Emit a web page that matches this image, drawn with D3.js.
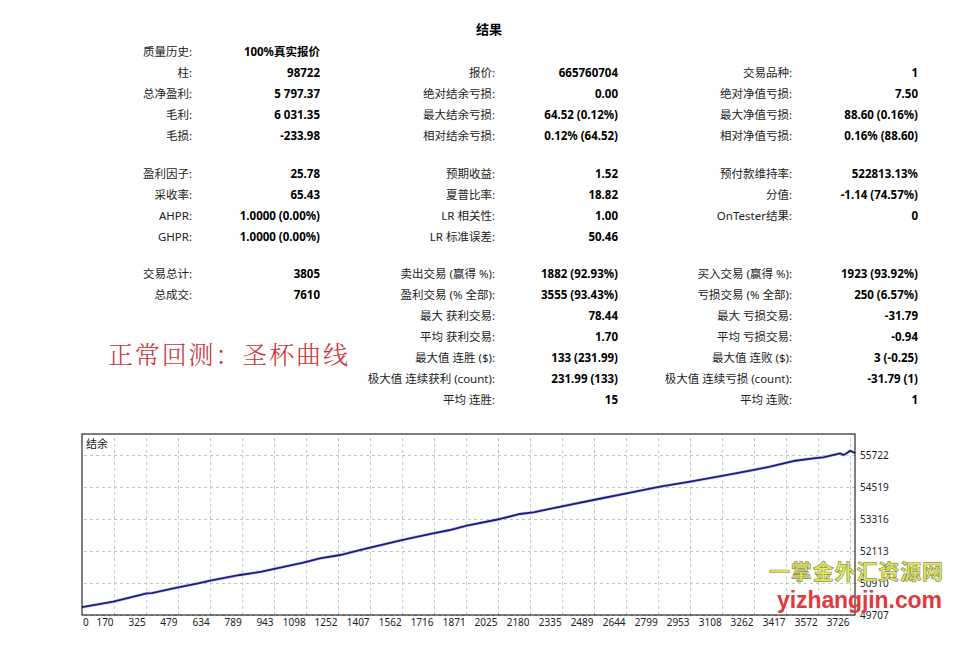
<!DOCTYPE html>
<html>
<head>
<meta charset="utf-8">
<script src="https://cdn.jsdelivr.net/npm/d3@7"></script>
<style>
  body { margin: 0; background: #fff; }
  svg { display: block; font-family: "Noto Sans", "Noto Sans CJK SC", sans-serif; }
  .lbl { font-size: 11.5px; fill: #222; }
  .val { font-size: 11.5px; font-weight: bold; fill: #000; }
  .axis text { font-size: 10px; fill: #222; font-family: "Noto Sans", sans-serif; }
  .axis .domain { display: none; }
  .axis line { stroke: #c4c4c4; stroke-dasharray: 3,3; }
</style>
</head>
<body>
<div id="chart"></div>
<script>
  // report table (label, value) per column, null = empty cell
  var reportTitle = "结果";
  var reportRows = [
    [["质量历史:", "100%真实报价"]],
    [["柱:", "98722"], ["报价:", "665760704"], ["交易品种:", "1"]],
    [["总净盈利:", "5 797.37"], ["绝对结余亏损:", "0.00"], ["绝对净值亏损:", "7.50"]],
    [["毛利:", "6 031.35"], ["最大结余亏损:", "64.52 (0.12%)"], ["最大净值亏损:", "88.60 (0.16%)"]],
    [["毛损:", "-233.98"], ["相对结余亏损:", "0.12% (64.52)"], ["相对净值亏损:", "0.16% (88.60)"]],
    "gap",
    [["盈利因子:", "25.78"], ["预期收益:", "1.52"], ["预付款维持率:", "522813.13%"]],
    [["采收率:", "65.43"], ["夏普比率:", "18.82"], ["分值:", "-1.14 (74.57%)"]],
    [["AHPR:", "1.0000 (0.00%)"], ["LR 相关性:", "1.00"], ["OnTester结果:", "0"]],
    [["GHPR:", "1.0000 (0.00%)"], ["LR 标准误差:", "50.46"]],
    "gap",
    [["交易总计:", "3805"], ["卖出交易 (赢得 %):", "1882 (92.93%)"], ["买入交易 (赢得 %):", "1923 (93.92%)"]],
    [["总成交:", "7610"], ["盈利交易 (% 全部):", "3555 (93.43%)"], ["亏损交易 (% 全部):", "250 (6.57%)"]],
    [null, ["最大 获利交易:", "78.44"], ["最大 亏损交易:", "-31.79"]],
    [null, ["平均 获利交易:", "1.70"], ["平均 亏损交易:", "-0.94"]],
    [null, ["最大值 连胜 ($):", "133 (231.99)"], ["最大值 连败 ($):", "3 (-0.25)"]],
    [null, ["极大值 连续获利 (count):", "231.99 (133)"], ["极大值 连续亏损 (count):", "-31.79 (1)"]],
    [null, ["平均 连胜:", "15"], ["平均 连败:", "1"]]
  ];

  // balance curve
  var chartTitle = "结余";
  var dealNo = [15, 166, 328, 352, 480, 577, 634, 778, 883, 939, 1084, 1165, 1262, 1342, 1407,
    1560, 1712, 1793, 1874, 2035, 2131, 2196, 2341, 2486, 2647, 2808, 2953, 3114, 3243, 3339,
    3452, 3549, 3597, 3678, 3694, 3710, 3726, 3750];
  var balance = [50000, 50207, 50523, 50530, 50748, 50899, 50996, 51211, 51335, 51436, 51673,
    51838, 51962, 52113, 52237, 52526, 52778, 52902, 53064, 53316, 53504, 53567, 53804, 54030,
    54282, 54530, 54718, 54943, 55131, 55282, 55496, 55597, 55635, 55785, 55722, 55785, 55883, 55797];
  var xTicks = [0, 170, 325, 479, 634, 789, 943, 1098, 1252, 1407, 1562, 1716, 1871, 2025, 2180,
    2335, 2489, 2644, 2799, 2953, 3108, 3262, 3417, 3572, 3726];
  var yTicks = [49707, 50910, 52113, 53316, 54519, 55722];
  var xDomain = [15, 3750];
  var yDomain = [49707, 56511];

  // overlay captions
  var caption = "正常回测：圣杯曲线";
  var siteName = "一掌金外汇资源网";
  var siteUrl = "yizhangjin.com";

  var svg = d3.select("#chart").append("svg")
    .attr("width", 959)
    .attr("height", 653);

  //Report table
  function drawReport() {
    var labelRight = [192, 495, 792];
    var valueRight = [320, 618, 918];
    var rowStep = 21, sectionGap = 16.5;

    svg.append("text")
      .attr("x", 489)
      .attr("y", 29)
      .attr("dy", "0.35em")
      .attr("text-anchor", "middle")
      .style("font-size", "13px")
      .style("font-weight", "bold")
      .text(reportTitle);

    var y = 52;
    reportRows.forEach(function(row) {
      if (row === "gap") { y += sectionGap; return; }
      row.forEach(function(cell, c) {
        if (!cell) return;
        svg.append("text").attr("class", "lbl")
          .attr("x", labelRight[c]).attr("y", y).attr("dy", "0.35em")
          .attr("text-anchor", "end")
          .text(cell[0]);
        svg.append("text").attr("class", "val")
          .attr("x", valueRight[c]).attr("y", y).attr("dy", "0.35em")
          .attr("text-anchor", "end")
          .text(cell[1]);
      });
      y += rowStep;
    });
  }

  //Balance chart
  function drawChart() {
    var margin = {top: 434, left: 82};
    var width = 773, height = 181;

    var g = svg.append("g")
      .attr("transform", "translate(" + margin.left + "," + margin.top + ")");

    var xScale = d3.scaleLinear().domain(xDomain).range([0, width]);
    var yScale = d3.scaleLinear().domain(yDomain).range([height, 0]);

    var yAxis = d3.axisRight(yScale)
      .tickValues(yTicks)
      .tickSize(-width)
      .tickPadding(5)
      .tickFormat(d3.format("d"));

    var xAxis = d3.axisBottom(xScale)
      .tickValues(xTicks)
      .tickSize(-height)
      .tickPadding(4)
      .tickFormat(d3.format("d"));

    g.append("g")
      .attr("class", "y axis")
      .attr("transform", "translate(" + width + ",0)")
      .call(yAxis);

    var xg = g.append("g")
      .attr("class", "x axis")
      .attr("transform", "translate(0," + height + ")")
      .call(xAxis);

    // labels end at their gridline, the first one starts at the border
    xg.selectAll(".tick text")
      .attr("text-anchor", "end")
      .attr("x", -1);
    xg.selectAll(".tick")
      .filter(function(d) { return d === xTicks[0]; })
      .attr("transform", "translate(0,0)")
      .call(function(t) {
        t.select("line").remove();
        t.select("text").attr("text-anchor", "start").attr("x", 1);
      });

    var line = d3.line()
      .x(function(d, i) { return xScale(dealNo[i]); })
      .y(function(d) { return yScale(d); });

    g.append("path")
      .datum(balance)
      .attr("fill", "none")
      .attr("stroke", "#8f8fd8")
      .attr("stroke-width", 3)
      .attr("stroke-opacity", 0.5)
      .attr("d", line);

    g.append("path")
      .datum(balance)
      .attr("fill", "none")
      .attr("stroke", "#1c1c86")
      .attr("stroke-width", 1.8)
      .attr("stroke-linejoin", "round")
      .attr("d", line);

    g.append("rect")
      .attr("width", width)
      .attr("height", height)
      .attr("fill", "none")
      .attr("stroke", "#000")
      .attr("stroke-width", 1);

    g.append("text")
      .attr("x", 4)
      .attr("y", 10)
      .attr("dy", "0.35em")
      .style("font-size", "11px")
      .style("fill", "#222")
      .text(chartTitle);
  }

  //Overlay captions
  function drawCaptions() {
    svg.append("text")
      .attr("x", 108)
      .attr("y", 355)
      .attr("dy", "0.36em")
      .attr("textLength", 240)
      .style("font-family", "'Noto Serif CJK SC', 'Noto Sans CJK SC', serif")
      .style("font-size", "25px")
      .style("font-weight", 300)
      .style("fill", "#cc3338")
      .text(caption);

    // watermark, drawn over the axis labels as in the source image
    svg.append("text")
      .attr("x", 769).attr("y", 571).attr("dy", "0.36em")
      .attr("textLength", 174)
      .style("font-family", "'Noto Sans CJK SC', sans-serif")
      .style("font-size", "21px")
      .style("font-weight", "bold")
      .style("fill", "#e4ee48")
      .style("stroke", "#8e8e66")
      .style("stroke-width", 0.7)
      .text(siteName);

    svg.append("text")
      .attr("x", 777).attr("y", 608)
      .attr("textLength", 165)
      .style("font-family", "'Liberation Sans', sans-serif")
      .style("font-size", "23px")
      .style("font-weight", "bold")
      .style("fill", "#e0393e")
      .text(siteUrl);
  }

  drawReport();
  drawChart();
  drawCaptions();
</script>
</body>
</html>
